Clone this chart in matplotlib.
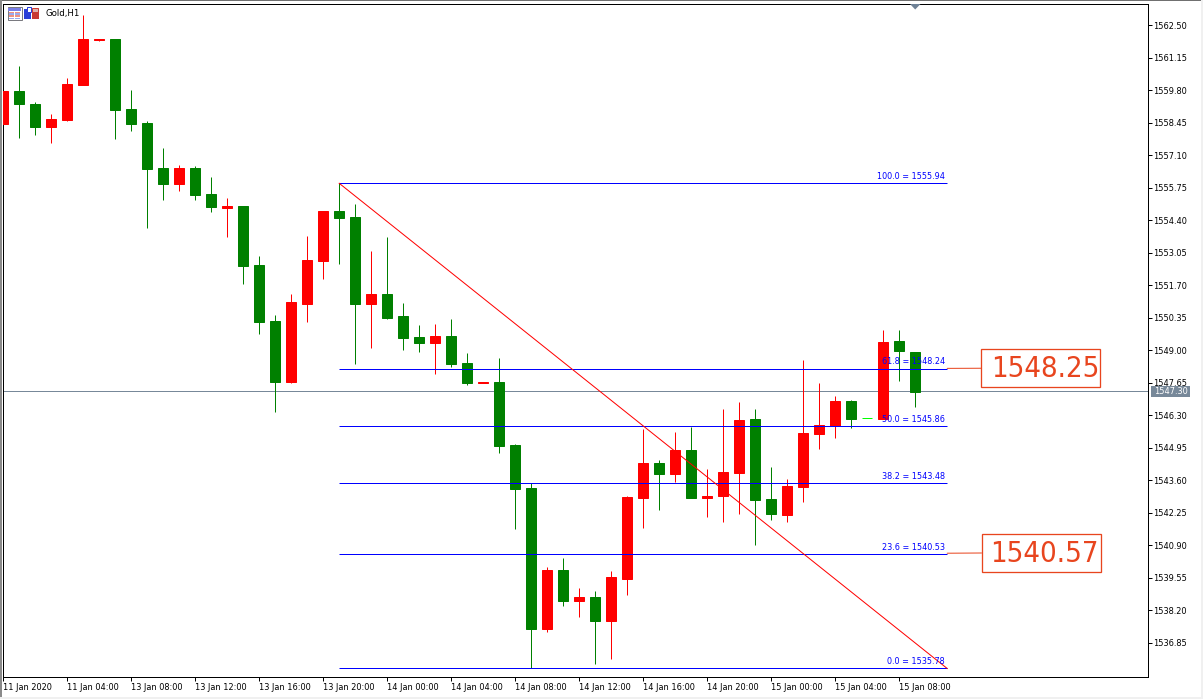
import matplotlib
matplotlib.use("Agg")
import matplotlib.pyplot as plt
from matplotlib.patches import Rectangle, Polygon

# ---- data (prices) ----
opens = [1558.40, 1559.78, 1559.23, 1558.28, 1558.57, 1560.02, 1561.89, 1561.94, 1559.03, 1558.45,
         1556.58, 1555.91, 1556.58, 1555.50, 1554.93, 1555.00, 1552.55, 1550.22, 1547.68, 1550.93,
         1552.71, 1554.79, 1554.54, 1550.93, 1551.34, 1550.43, 1549.55, 1549.30, 1549.60, 1548.47,
         1547.66, 1547.68, 1545.07, 1543.28, 1537.42, 1539.87, 1538.58, 1538.75, 1537.75, 1539.50,
         1542.86, 1544.32, 1543.86, 1544.86, 1542.86, 1542.95, 1543.90, 1546.15, 1542.82, 1542.16,
         1543.32, 1545.52, 1545.86, 1546.89, 1546.18, 1546.15, 1549.39, 1548.93]
highs = [1559.78, 1560.81, 1559.32, 1558.82, 1560.32, 1562.93, 1561.94, 1561.94, 1559.82, 1558.53,
         1557.41, 1556.70, 1556.66, 1556.20, 1555.33, 1555.00, 1552.92, 1550.47, 1551.34, 1553.75,
         1554.79, 1555.95, 1555.08, 1553.13, 1553.71, 1550.97, 1550.05, 1550.09, 1550.30, 1548.89,
         1547.68, 1548.68, 1545.11, 1543.49, 1540.00, 1540.37, 1539.13, 1539.00, 1539.83, 1542.95,
         1545.73, 1544.44, 1545.61, 1545.81, 1544.07, 1546.56, 1546.85, 1546.56, 1544.15, 1543.65,
         1548.60, 1547.64, 1547.10, 1546.94, 1546.18, 1549.84, 1549.84, 1548.93]
lows = [1558.40, 1557.82, 1557.95, 1557.61, 1558.53, 1560.02, 1561.85, 1557.78, 1558.11, 1554.08,
        1555.25, 1555.62, 1555.25, 1554.75, 1553.71, 1551.76, 1549.68, 1546.44, 1547.64, 1550.18,
        1551.96, 1552.59, 1548.43, 1549.10, 1550.30, 1549.01, 1548.93, 1548.02, 1548.31, 1547.56,
        1547.66, 1544.73, 1541.58, 1535.80, 1537.30, 1538.38, 1537.92, 1535.97, 1536.18, 1538.83,
        1541.62, 1542.37, 1543.53, 1542.86, 1542.07, 1541.87, 1542.20, 1540.91, 1541.95, 1541.87,
        1542.70, 1544.90, 1545.36, 1545.77, 1546.18, 1546.15, 1547.73, 1546.65]
closes = [1559.78, 1559.23, 1558.28, 1558.61, 1560.07, 1561.94, 1561.94, 1558.99, 1558.40, 1556.53,
          1555.91, 1556.58, 1555.45, 1554.96, 1555.00, 1552.50, 1550.18, 1547.68, 1551.01, 1552.75,
          1554.79, 1554.50, 1550.93, 1551.34, 1550.34, 1549.51, 1549.30, 1549.60, 1548.43, 1547.64,
          1547.68, 1545.03, 1543.24, 1537.42, 1539.87, 1538.58, 1538.75, 1537.75, 1539.58, 1542.91,
          1544.32, 1543.86, 1544.86, 1542.86, 1542.95, 1543.94, 1546.10, 1542.78, 1542.20, 1543.36,
          1545.56, 1545.90, 1546.89, 1546.15, 1546.18, 1549.35, 1548.97, 1547.27]

time_tick_bars = [0, 4, 8, 12, 16, 20, 24, 28, 32, 36, 40, 44, 48, 52, 56]
time_tick_labels = ["11 Jan 2020", "11 Jan 04:00", "13 Jan 08:00", "13 Jan 12:00", "13 Jan 16:00",
                    "13 Jan 20:00", "14 Jan 00:00", "14 Jan 04:00", "14 Jan 08:00", "14 Jan 12:00",
                    "14 Jan 16:00", "14 Jan 20:00", "15 Jan 00:00", "15 Jan 04:00", "15 Jan 08:00"]
price_ticks = [1562.50, 1561.15, 1559.80, 1558.45, 1557.10, 1555.75, 1554.40, 1553.05, 1551.70, 1550.35,
               1549.00, 1547.65, 1546.30, 1544.95, 1543.60, 1542.25, 1540.90, 1539.55, 1538.20, 1536.85]

fib_ratios = ["100.0", "61.8", "50.0", "38.2", "23.6", "0.0"]
fib_prices = [1555.94, 1548.24, 1545.86, 1543.48, 1540.53, 1535.78]
fib_start_bar = 21
fib_end_bar = 59
bid_price = 1547.30
callout_prices = [1548.25, 1540.57]

# ---- styling ----
W, H = 1203, 699
UP, DOWN, DOJI = "#ff0000", "#008000", "#00ff00"
BLUE = "#0000ff"
ORANGE = "#e8451e"
SLATE = "#778899"
FONT = dict(family="DejaVu Sans", stretch="condensed")
px_lw = 0.72

fig = plt.figure(figsize=(W / 100, H / 100), dpi=100, facecolor="white")
ax = fig.add_axes([3.2 / W, 1 - 676.8 / H, 1145 / W, 673 / H])
ax.set_facecolor("white")
ax.set_xlim(0, 1145 / 16)
ax.set_ylim(1535.435, 1563.398)
for s in ax.spines.values():
    s.set_linewidth(px_lw)
    s.set_color("black")


def figrect(x0, y0, x1, y1, **kw):
    """Chart furniture placed in figure pixels (y downward)."""
    r = Rectangle((x0 / W, 1 - y1 / H), (x1 - x0) / W, (y1 - y0) / H,
                  transform=fig.transFigure, linewidth=kw.pop("lw", 0), **kw)
    fig.add_artist(r)
    return r


# candles
bars = list(range(len(opens)))
colors = [DOJI if o == c else (UP if c > o else DOWN) for o, c in zip(opens, closes)]
ax.axhline(bid_price, color=SLATE, lw=px_lw, zorder=1)
ax.vlines(bars, lows, highs, colors=colors, lw=px_lw, zorder=2)
ax.bar(bars, [c - o for o, c in zip(opens, closes)], bottom=opens, width=10 / 16,
       color=colors, edgecolor=colors, linewidth=px_lw, zorder=3)

# fibonacci retracement
ax.hlines(fib_prices, fib_start_bar, fib_end_bar, colors=BLUE, lw=px_lw, zorder=4)
ax.plot([fib_start_bar, fib_end_bar], [fib_prices[0], fib_prices[-1]], color="#ff0000",
        lw=px_lw, zorder=4)
for ratio, price in zip(fib_ratios, fib_prices):
    ax.annotate(f"{ratio} = {price:.2f}", (fib_end_bar, price), xytext=(-1.5, 1.6),
                textcoords="offset points", ha="right", va="bottom", color=BLUE,
                fontsize=6.5, zorder=5, **FONT)

# axes ticks
ax.yaxis.tick_right()
ax.set_yticks(price_ticks)
ax.set_yticklabels([f"{p:.2f}" for p in price_ticks], fontsize=6.6, color="black", **FONT)
ax.tick_params(axis="y", length=3, width=px_lw, pad=0.4)
ax.set_xticks(time_tick_bars)
ax.set_xticklabels(time_tick_labels, fontsize=6.6, color="black", ha="left", **FONT)
ax.tick_params(axis="x", length=3, width=px_lw, pad=1.5)

# callouts
for price, (x0, y0, x1, y1) in zip(callout_prices, [(981, 349, 1100.5, 387.5), (981.5, 534, 1100.5, 572)]):
    ax.annotate("", (fib_end_bar, price), xytext=(x0 / W, 1 - (y0 + y1) / 2 / H),
                textcoords="figure fraction",
                arrowprops=dict(arrowstyle="-", color=ORANGE, lw=px_lw, shrinkA=0, shrinkB=0))
    figrect(x0, y0, x1, y1, facecolor="white", edgecolor=ORANGE, lw=px_lw * 1.3)
    fig.text((x1 - 1.5) / W, 1 - ((y0 + y1) / 2 + 0.5) / H, f"{price:.2f}", color=ORANGE,
             fontsize=21, ha="right", va="center", **FONT)

# bid label
figrect(1151, 386, 1190, 397, facecolor=SLATE)
fig.text(1170.5 / W, 1 - 391.5 / H, f"{bid_price:.2f}", color="white", fontsize=6.6,
         ha="center", va="center", **FONT)

# chart shift marker
fig.add_artist(Polygon([(910 / W, 1 - 4 / H), (920.5 / W, 1 - 4 / H), (915.2 / W, 1 - 9.5 / H)],
                       closed=True, transform=fig.transFigure, facecolor="#6e8196", edgecolor="none"))

# title and toolbar icons
fig.text(45 / W, 1 - 13.5 / H, "Gold,H1", color="black", fontsize=6.8, ha="left", va="center", **FONT)
figrect(7.5, 7.5, 21.5, 19.5, facecolor="white", edgecolor="#7a7a80", lw=px_lw)
figrect(8, 8, 21, 10.5, facecolor="#7a80e8")
for yy, c in [(11.5, "#f09080"), (13.5, "#9aa8f0"), (15.5, "#f09080"), (17.5, "#9aa8f0")]:
    figrect(9, yy, 14, yy + 1.2, facecolor=c)
    figrect(15, yy, 20, yy + 1.2, facecolor=c)
figrect(24, 9, 31, 19, facecolor="#2a3fd8")
figrect(27, 7, 31, 12, facecolor="white", edgecolor="#2a3fd8", lw=px_lw)
figrect(32, 12, 39, 19, facecolor="#c83a34")
figrect(32, 8, 38, 12, facecolor="#e0b0aa", edgecolor="#c83a34", lw=px_lw)

# window frame
figrect(0, 0, W, 1.2, facecolor="#707070")
figrect(0, 0, 1.5, H, facecolor="#8a8a8a")
figrect(0, 697, W, H, facecolor="#f0f0f0")
figrect(1201, 0, W, H, facecolor="#f0f0f0")

fig.savefig("out.png", dpi=100, facecolor="white")
